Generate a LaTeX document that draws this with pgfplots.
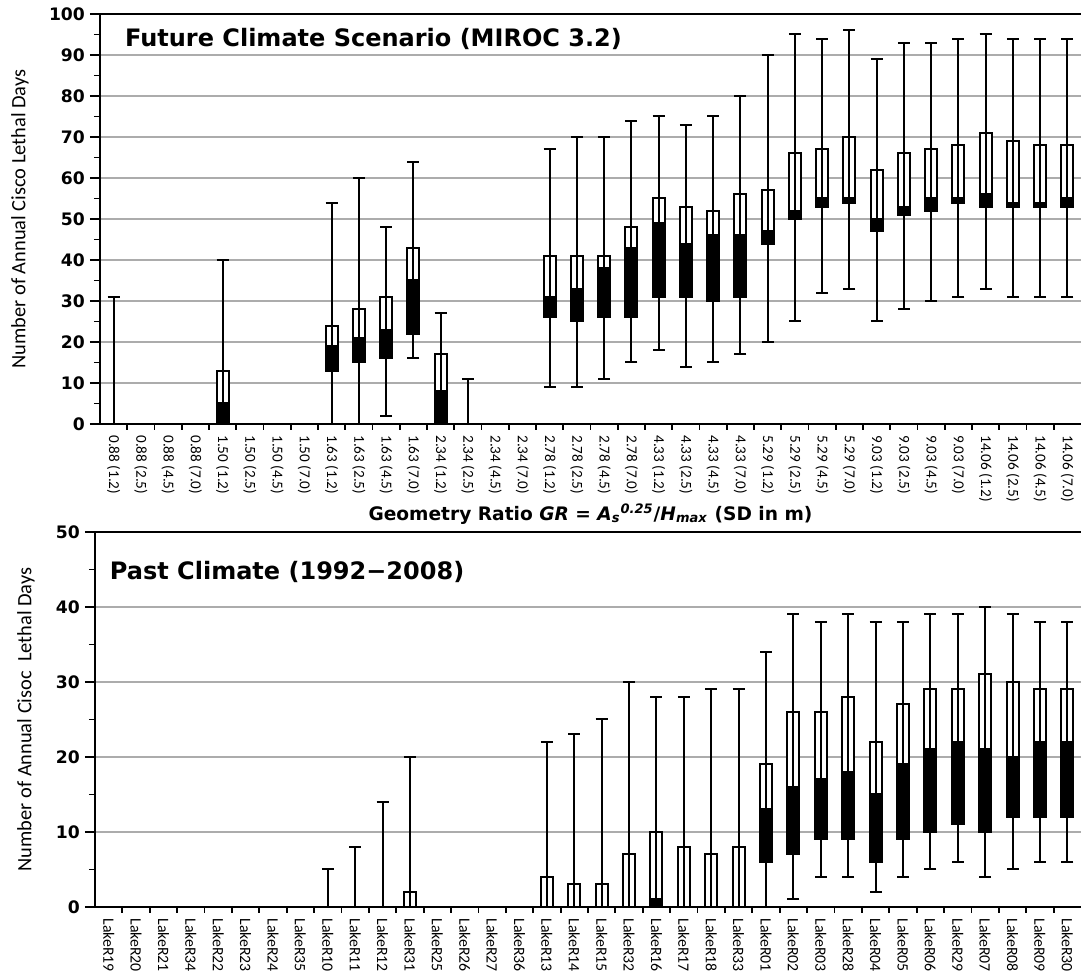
\documentclass[border=0pt]{standalone}
\usepackage{pgfplots}
\pgfplotsset{compat=1.18}
\usepackage{pgfplotstable}
\usepackage{fontspec}
\setmainfont{Carlito}
\newfontfamily\djv{DejaVu Sans}

\pgfplotstableread{
x min q1 med q3 max
0 0 0 0 0 31
1 0 0 0 0 0
2 0 0 0 0 0
3 0 0 0 0 0
4 0 0 5 13 40
5 0 0 0 0 0
6 0 0 0 0 0
7 0 0 0 0 0
8 0 13 19 24 54
9 0 15 21 28 60
10 2 16 23 31 48
11 16 22 35 43 64
12 0 0 8 17 27
13 0 0 0 0 11
14 0 0 0 0 0
15 0 0 0 0 0
16 9 26 31 41 67
17 9 25 33 41 70
18 11 26 38 41 70
19 15 26 43 48 74
20 18 31 49 55 75
21 14 31 44 53 73
22 15 30 46 52 75
23 17 31 46 56 80
24 20 44 47 57 90
25 25 50 52 66 95
26 32 53 55 67 94
27 33 54 55 70 96
28 25 47 50 62 89
29 28 51 53 66 93
30 30 52 55 67 93
31 31 54 55 68 94
32 33 53 56 71 95
33 31 53 54 69 94
34 31 53 54 68 94
35 31 53 55 68 94
}\toptable

\pgfplotstableread{
x min q1 med q3 max
0 0 0 0 0 0
1 0 0 0 0 0
2 0 0 0 0 0
3 0 0 0 0 0
4 0 0 0 0 0
5 0 0 0 0 0
6 0 0 0 0 0
7 0 0 0 0 0
8 0 0 0 0 5
9 0 0 0 0 8
10 0 0 0 0 14
11 0 0 0 2 20
12 0 0 0 0 0
13 0 0 0 0 0
14 0 0 0 0 0
15 0 0 0 0 0
16 0 0 0 4 22
17 0 0 0 3 23
18 0 0 0 3 25
19 0 0 0 7 30
20 0 0 1 10 28
21 0 0 0 8 28
22 0 0 0 7 29
23 0 0 0 8 29
24 0 6 13 19 34
25 1 7 16 26 39
26 4 9 17 26 38
27 4 9 18 28 39
28 2 6 15 22 38
29 4 9 19 27 38
30 5 10 21 29 39
31 6 11 22 29 39
32 4 10 21 31 40
33 5 12 20 30 39
34 6 12 22 29 38
35 6 12 22 29 38
}\bottable

\pgfplotsset{
  lakebox/.style={
    scale only axis,
    ybar stacked, bar width=6pt,
    xmin=-0.5, xmax=35.5, ymin=0,
    axis x line*=box, axis y line*=left,
    axis line style={black, line width=1pt, -},
    tick pos=left,
    tick align=outside,
    major tick length=5pt, minor tick length=3pt,
    tick style={black, line width=0.9pt},
    xtick={0,...,35},
    minor x tick num=1,
    major x tick style={draw=none},
    minor y tick num=1,
    ymajorgrids,
    grid style={gray!65, line width=0.6pt},
    /pgf/number format/assume math mode=true,
    yticklabel style={font=\djv\bfseries\fontsize{8.6}{10}\selectfont, xshift=1pt},
    ylabel style={at={(axis description cs:-0.0815,0.5)}, anchor=center, font=\fontsize{10.2}{12}\selectfont},
  },
  whisk/.style={
    fill=none, draw=none,
    error bars/.cd, y dir=both, y explicit,
    error mark=|,
    error bar style={draw=black, line width=1pt},
    error mark options={draw=black, line width=1pt, mark size=3pt},
  },
  lowbox/.style={fill=black, draw=black, line width=1pt},
  highbox/.style={fill=white, draw=black, line width=1pt},
}

\begin{document}
\begin{tikzpicture}
\useasboundingbox (0,0) rectangle (540.5pt,489pt);

\begin{axis}[lakebox,
  at={(50pt,277pt)}, anchor=south west,
  width=490.5pt, height=205pt,
  ymax=100, ytick={0,10,...,100},
  xticklabels={0.88 (1.2),0.88 (2.5),0.88 (4.5),0.88 (7.0),
    1.50 (1.2),1.50 (2.5),1.50 (4.5),1.50 (7.0),
    1.63 (1.2),1.63 (2.5),1.63 (4.5),1.63 (7.0),
    2.34 (1.2),2.34 (2.5),2.34 (4.5),2.34 (7.0),
    2.78 (1.2),2.78 (2.5),2.78 (4.5),2.78 (7.0),
    4.33 (1.2),4.33 (2.5),4.33 (4.5),4.33 (7.0),
    5.29 (1.2),5.29 (2.5),5.29 (4.5),5.29 (7.0),
    9.03 (1.2),9.03 (2.5),9.03 (4.5),9.03 (7.0),
    14.06 (1.2),14.06 (2.5),14.06 (4.5),14.06 (7.0)},
  xticklabel style={rotate=-90, anchor=west, inner sep=0.5pt, font=\fontsize{7.6}{9}\selectfont},
  ylabel={Number of Annual Cisco Lethal Days},
  xlabel={\djv\bfseries Geometry Ratio \textit{GR} = \textit{A}\textsubscript{\textit{s}}\textsuperscript{\textit{0.25}}/\textit{H}\textsubscript{\textit{max}} (SD in m)},
  xlabel style={at={(axis description cs:0.5,-0.2366)}, anchor=base, font=\fontsize{9.3}{11}\selectfont},
]
\addplot[whisk] table[x=x, y=q1,
  y error plus expr=\thisrow{max}-\thisrow{q1},
  y error minus expr=\thisrow{q1}-\thisrow{min}] \toptable;
\addplot[lowbox] table[x=x, y expr=\thisrow{med}-\thisrow{q1}] \toptable;
\addplot[highbox] table[x=x, y expr=\thisrow{q3}-\thisrow{med}] \toptable;
\node[anchor=base west, font=\djv\bfseries\fontsize{12}{14}\selectfont]
  at (rel axis cs:0.0184,0.920) {Future Climate Scenario (MIROC 3.2)};
\end{axis}

\begin{axis}[lakebox,
  at={(47.5pt,35.5pt)}, anchor=south west,
  width=493pt, height=187.5pt,
  ymax=50, ytick={0,10,...,50},
  xticklabels={LakeR19,LakeR20,LakeR21,LakeR34,LakeR22,LakeR23,LakeR24,LakeR35,
    LakeR10,LakeR11,LakeR12,LakeR31,LakeR25,LakeR26,LakeR27,LakeR36,
    LakeR13,LakeR14,LakeR15,LakeR32,LakeR16,LakeR17,LakeR18,LakeR33,
    LakeR01,LakeR02,LakeR03,LakeR28,LakeR04,LakeR05,LakeR06,LakeR29,
    LakeR07,LakeR08,LakeR09,LakeR30},
  xticklabel style={rotate=-90, anchor=west, inner sep=0.5pt, font=\fontsize{7.9}{9}\selectfont},
  ylabel={Number of Annual Cisoc\ \ Lethal Days},
  ylabel style={at={(axis description cs:-0.07,0.5)}},
]
\addplot[whisk] table[x=x, y=q1,
  y error plus expr=\thisrow{max}-\thisrow{q1},
  y error minus expr=\thisrow{q1}-\thisrow{min}] \bottable;
\addplot[lowbox] table[x=x, y expr=\thisrow{med}-\thisrow{q1}] \bottable;
\addplot[highbox] table[x=x, y expr=\thisrow{q3}-\thisrow{med}] \bottable;
\node[anchor=base west, font=\djv\bfseries\fontsize{12}{14}\selectfont]
  at (rel axis cs:0.008,0.872) {Past Climate (1992−2008)};
\end{axis}
\end{tikzpicture}
\end{document}
